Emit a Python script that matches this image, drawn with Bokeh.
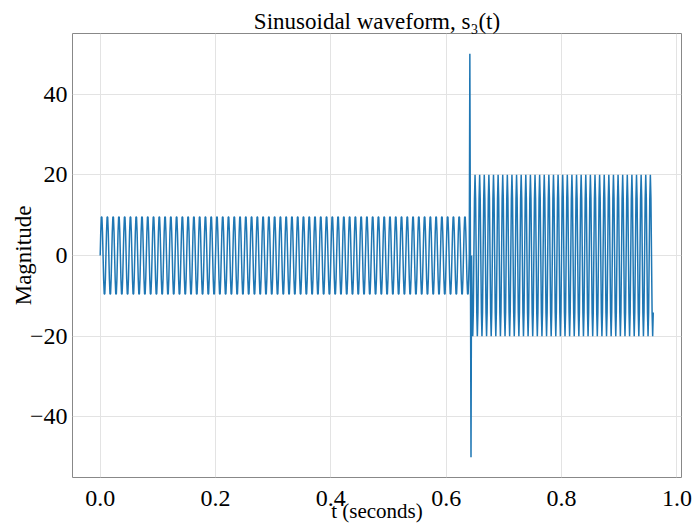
import numpy as np
from bokeh.plotting import figure
from bokeh.models import FixedTicker, Range1d
from bokeh.embed import file_html
from bokeh.resources import INLINE

# Signal description: three consecutive sinusoidal segments
fs = 1000                            # samples per second
seg_start = [0.000, 0.640, 0.645]    # seconds
seg_stop = [0.640, 0.645, 0.960]     # seconds
seg_amp = [10.0, 50.0, 20.0]         # magnitude
seg_freq = [100.0, 250.0, 125.0]     # Hz

x_ticks = [0.0, 0.2, 0.4, 0.6, 0.8, 1.0]
x_tick_labels = ["0.0", "0.2", "0.4", "0.6", "0.8", "1.0"]
y_ticks = [-40, -20, 0, 20, 40]
y_tick_labels = ["\u221240", "\u221220", "0", "20", "40"]

t_parts, s_parts = [], []
for a, b, amp, f in zip(seg_start, seg_stop, seg_amp, seg_freq):
    t = np.arange(int(round(a * fs)), int(round(b * fs))) / fs
    t_parts.append(t)
    s_parts.append(amp * np.sin(2 * np.pi * f * t))
t_all = np.concatenate(t_parts)
s_all = np.concatenate(s_parts)

p = figure(width=700, height=525, output_backend="svg", toolbar_location=None,
           x_range=Range1d(-0.048, 1.008), y_range=Range1d(-55, 55),
           title="Sinusoidal waveform, s\u2083(t)")
p.min_border_left = 72
p.min_border_right = 19
p.min_border_top = 33
p.min_border_bottom = 48

p.line(t_all, s_all, line_color="#1f77b4", line_width=1.5)

p.title.text_font = "Liberation Serif"
p.title.text_font_size = "23px"
p.title.text_font_style = "normal"
p.title.align = "center"
p.title.text_color = "black"
p.title.standoff = 0

p.outline_line_color = "#888888"
p.outline_line_width = 1

for ax in (p.xaxis, p.yaxis):
    ax.axis_line_color = None
    ax.major_tick_line_color = None
    ax.minor_tick_line_color = None
    ax.major_tick_out = 0
    ax.major_tick_in = 0
    ax.minor_tick_out = 0
    ax.major_label_text_font = "Liberation Serif"
    ax.major_label_text_font_size = "24px"
    ax.major_label_text_color = "black"
    ax.axis_label_text_font = "Liberation Serif"
    ax.axis_label_text_font_style = "normal"
    ax.axis_label_text_color = "black"

p.xaxis.ticker = FixedTicker(ticks=x_ticks)
p.xaxis.major_label_overrides = dict(zip(x_ticks, x_tick_labels))
p.yaxis.ticker = FixedTicker(ticks=y_ticks)
p.yaxis.major_label_overrides = dict(zip(y_ticks, y_tick_labels))
p.xaxis.axis_label = "t (seconds)"
p.yaxis.axis_label = "Magnitude"
p.xaxis.axis_label_text_font_size = "21px"
p.yaxis.axis_label_text_font_size = "23px"
p.xaxis.major_label_standoff = 13
p.yaxis.major_label_standoff = 5
p.xaxis.axis_label_standoff = -10
p.yaxis.axis_label_standoff = -9

p.xgrid.grid_line_color = "#e3e3e3"
p.ygrid.grid_line_color = "#e3e3e3"

open("out.html", "w").write(file_html(p, INLINE))
